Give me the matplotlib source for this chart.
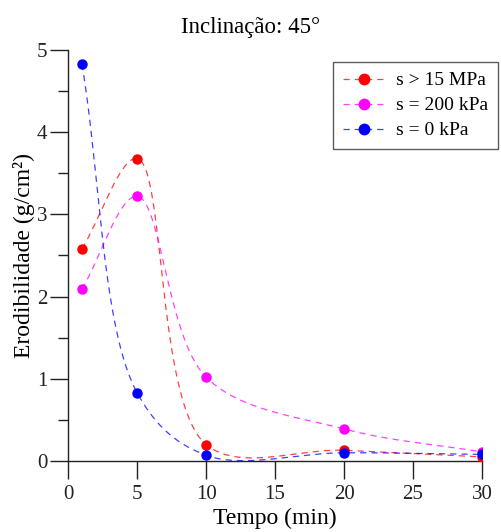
import numpy as np
import matplotlib
matplotlib.use('Agg')
import matplotlib.pyplot as plt
from matplotlib.colors import to_rgba
from matplotlib.lines import Line2D

plt.rcParams['font.family'] = ['Liberation Serif', 'DejaVu Serif']

# Tempo (min)
tempo = [1, 5, 10, 20, 30]

# Erodibilidade (g/cm2) for each suction level
ero_15mpa = [2.58, 3.68, 0.20, 0.13, 0.05]
ero_200kpa = [2.09, 3.22, 1.02, 0.39, 0.11]
ero_0kpa = [4.83, 0.83, 0.07, 0.10, 0.08]

labels = ['s > 15 MPa', 's = 200 kPa', 's = 0 kPa']
colors = ['#ff0000', '#ff00ff', '#0000ff']

x_ticks = [0, 5, 10, 15, 20, 25, 30]
y_ticks = [0, 1, 2, 3, 4, 5]


def smooth_curve(x, y, xr=30.0, yr=5.0, n=60, alpha=0.5):
    # centripetal Catmull-Rom through the points, worked out in
    # normalised coordinates so it looks even on screen
    p = np.column_stack([np.asarray(x, float) / xr, np.asarray(y, float) / yr])
    pts = np.vstack([2 * p[0] - p[1], p, 2 * p[-1] - p[-2]])
    out = []
    for i in range(1, len(pts) - 2):
        p0, p1, p2, p3 = pts[i - 1], pts[i], pts[i + 1], pts[i + 2]
        d01 = np.linalg.norm(p1 - p0) ** alpha
        d12 = np.linalg.norm(p2 - p1) ** alpha
        d23 = np.linalg.norm(p3 - p2) ** alpha
        m1 = (p1 - p0) / d01 - (p2 - p0) / (d01 + d12) + (p2 - p1) / d12
        m2 = (p2 - p1) / d12 - (p3 - p1) / (d12 + d23) + (p3 - p2) / d23
        c1 = p1 + m1 * d12 / 3.0
        c2 = p2 - m2 * d12 / 3.0
        t = np.linspace(0, 1, n)[:, None]
        seg = ((1 - t) ** 3 * p1 + 3 * (1 - t) ** 2 * t * c1
               + 3 * (1 - t) * t ** 2 * c2 + t ** 3 * p2)
        out.append(seg if i == 1 else seg[1:])
    out = np.vstack(out)
    return out[:, 0] * xr, out[:, 1] * yr


fig = plt.figure(figsize=(5.01, 5.32), dpi=100)
ax = fig.add_axes([0.136, 0.1335, 0.826, 0.7725])

series = [ero_15mpa, ero_200kpa, ero_0kpa]
dash = (0, (5, 4))
handles = []
for vals, lab, col in zip(series, labels, colors):
    xs, ys = smooth_curve(tempo, vals)
    ax.plot(xs, ys, color=to_rgba(col, 0.75), lw=0.9, ls=dash, zorder=2)
    ax.plot(tempo, vals, 'o', color=col, ms=6.5, zorder=3)
    # legend entry: faded dashed line with a solid, bigger marker
    handles.append(Line2D([], [], color=to_rgba(col, 0.75), lw=0.9, ls=dash,
                          marker='o', ms=7.5, markerfacecolor=col,
                          markeredgecolor=col, label=lab))

ax.set_xlim(0, 30)
ax.set_ylim(0, 5)
ax.set_xticks(x_ticks)
ax.set_yticks(y_ticks)
ax.set_yticks(np.arange(0.5, 5, 1.0), minor=True)

for s in ['top', 'right']:
    ax.spines[s].set_visible(False)
for s in ['left', 'bottom']:
    ax.spines[s].set_linewidth(1.0)
    ax.spines[s].set_color('#222222')

ax.tick_params(axis='both', which='major', direction='out', length=13,
               width=1.0, labelsize=15, colors='#222222')
ax.tick_params(axis='y', which='major', pad=2)
ax.tick_params(axis='x', which='major', pad=4)
ax.tick_params(axis='y', which='minor', direction='out', length=7,
               width=1.0, colors='#222222')

fig.text(0.5, 1 - 33 / 532, 'Inclinação: 45°', fontsize=16.5,
         ha='center', va='baseline')
ax.set_xlabel('Tempo (min)', fontsize=17, labelpad=3)
ax.set_ylabel('Erodibilidade (g/cm²)', fontsize=17, labelpad=1.5)

leg = ax.legend(handles=handles, loc='upper right', fontsize=14,
                frameon=True, fancybox=False, handlelength=2.25,
                borderpad=0.5, labelspacing=0.38, handletextpad=0.5,
                borderaxespad=0, bbox_to_anchor=(1.0386, 0.9708))
leg.get_frame().set_edgecolor('#333333')
leg.get_frame().set_linewidth(1.0)

fig.savefig('out.png', dpi=100)
